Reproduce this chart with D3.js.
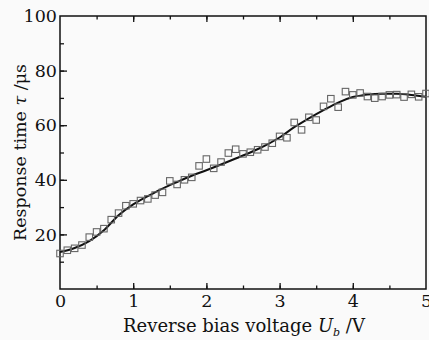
<!DOCTYPE html>
<html>
<head>
<meta charset="utf-8">
<script src="https://cdn.jsdelivr.net/npm/d3@7"></script>
<style>
  body { margin: 0; background: #fafafa; }
  svg { display: block; }
</style>
</head>
<body>
<div class="chart"></div>
<script>
// measured points
const voltage = [0, 0.1, 0.2, 0.3, 0.4, 0.5, 0.6, 0.7, 0.8, 0.9, 1.0, 1.1, 1.2, 1.3, 1.4, 1.5, 1.6, 1.7, 1.8, 1.9,
  2.0, 2.1, 2.2, 2.3, 2.4, 2.5, 2.6, 2.7, 2.8, 2.9, 3.0, 3.1, 3.2, 3.3, 3.4, 3.5, 3.6, 3.7, 3.8, 3.9,
  4.0, 4.1, 4.2, 4.3, 4.4, 4.5, 4.6, 4.7, 4.8, 4.9, 5.0];
const response = [13.0, 14.2, 14.9, 16.1, 19.0, 20.9, 22.1, 25.4, 27.8, 30.5, 31.2, 32.4, 33.0, 34.4, 35.4, 39.6, 38.3, 40.0, 40.9, 45.1,
  47.6, 44.2, 46.5, 49.8, 51.2, 49.5, 50.1, 51.0, 52.0, 53.4, 55.9, 55.4, 61.0, 58.3, 62.9, 61.9, 66.9, 69.7, 66.6, 72.3,
  71.1, 71.8, 70.5, 69.9, 70.5, 71.1, 71.2, 70.3, 71.3, 70.4, 71.6];

// fitted curve
const fitV = [0, 0.2, 0.4, 0.6, 0.8, 1.0, 1.2, 1.4, 1.6, 1.8, 2.0, 2.2, 2.4, 2.6, 2.8, 3.0, 3.2, 3.4, 3.6, 3.8, 4.0, 4.2, 4.4, 4.6, 4.8, 5.0];
const fitTau = [13.5, 15.0, 17.5, 21.5, 27.0, 31.0, 34.0, 36.8, 39.2, 41.5, 43.5, 45.6, 47.8, 50.0, 52.5, 55.5, 59.3, 62.5, 65.5, 68.3, 70.3, 71.2, 71.5, 71.5, 71.1, 70.4];

const xTicks = [0, 1, 2, 3, 4, 5];
const yTicks = [20, 40, 60, 80, 100];

const W = 429, H = 340;
const margin = { left: 60, right: 3, top: 16, bottom: 51 };

const svg = d3.select(".chart").append("svg")
  .attr("width", W).attr("height", H);

const x = d3.scaleLinear().domain([0, 5]).range([margin.left, W - margin.right]);
const y = d3.scaleLinear().domain([0, 100]).range([H - margin.bottom, margin.top]);

const font = "DejaVu Serif";

// inward ticks on bottom, top and left
const minorX = d3.range(0.5, 5, 0.5);
const minorY = d3.range(10, 100, 10);
const innerX = [1, 2, 3, 4];
const innerY = [20, 40, 60, 80];

function tickGroup(axis, tr) {
  svg.append("g")
    .attr("transform", tr)
    .call(axis)
    .call(g => g.select(".domain").remove());
}
tickGroup(d3.axisBottom(x).tickValues(minorX).tickSize(-3.5).tickFormat(""), `translate(0,${y(0)})`);
tickGroup(d3.axisBottom(x).tickValues(innerX).tickSize(-6).tickFormat(""), `translate(0,${y(0)})`);
tickGroup(d3.axisTop(x).tickValues(minorX).tickSize(-3.5).tickFormat(""), `translate(0,${y(100)})`);
tickGroup(d3.axisTop(x).tickValues(innerX).tickSize(-6).tickFormat(""), `translate(0,${y(100)})`);
tickGroup(d3.axisLeft(y).tickValues(minorY).tickSize(-4).tickFormat(""), `translate(${x(0)},0)`);
tickGroup(d3.axisLeft(y).tickValues(innerY).tickSize(-7).tickFormat(""), `translate(${x(0)},0)`);

const xAxis = svg.append("g")
  .attr("transform", `translate(0,${y(0)})`)
  .call(d3.axisBottom(x).tickValues(xTicks).tickSize(0).tickPadding(6).tickFormat(d3.format("d")));
xAxis.select(".domain").remove();
xAxis.selectAll("text").attr("font-family", font).attr("font-size", 17.5).attr("fill", "#111");

const yAxis = svg.append("g")
  .attr("transform", `translate(${x(0)},0)`)
  .call(d3.axisLeft(y).tickValues(yTicks).tickSize(0).tickPadding(3));
yAxis.select(".domain").remove();
yAxis.selectAll("text").attr("font-family", font).attr("font-size", 17.5).attr("fill", "#111");

svg.selectAll("g.tick line").attr("stroke", "#111").attr("stroke-width", 1.3);

// frame
svg.append("rect")
  .attr("x", x(0)).attr("y", y(100))
  .attr("width", x(5) - x(0)).attr("height", y(0) - y(100))
  .attr("fill", "none").attr("stroke", "#111").attr("stroke-width", 1.5);

// fit line
const line = d3.line()
  .x((d, i) => x(fitV[i]))
  .y(d => y(d))
  .curve(d3.curveMonotoneX);

svg.append("path")
  .datum(fitTau)
  .attr("d", line)
  .attr("fill", "none")
  .attr("stroke", "#111")
  .attr("stroke-width", 2);

// squares
const s = 6.5;
svg.append("g").selectAll("rect")
  .data(response)
  .join("rect")
  .attr("x", (d, i) => x(voltage[i]) - s / 2)
  .attr("y", d => y(d) - s / 2)
  .attr("width", s).attr("height", s)
  .attr("fill", "none")
  .attr("stroke", "#666")
  .attr("stroke-width", 1.1);

// axis titles
svg.append("text")
  .attr("x", 244).attr("y", 332)
  .attr("text-anchor", "middle")
  .attr("font-family", font).attr("font-size", 18).attr("fill", "#111")
  .call(t => {
    t.append("tspan").text("Reverse bias voltage ");
    t.append("tspan").attr("font-style", "italic").text("U");
    t.append("tspan").attr("font-style", "italic").attr("font-size", 11).attr("dy", 4).text("b");
    t.append("tspan").attr("dy", -4).text(" /V");
  });

svg.append("text")
  .attr("transform", `translate(26,${(y(0) + y(100)) / 2}) rotate(-90)`)
  .attr("text-anchor", "middle")
  .attr("font-family", font).attr("font-size", 17.5).attr("fill", "#111")
  .call(t => {
    t.append("tspan").text("Response time ");
    t.append("tspan").attr("font-style", "italic").text("τ");
    t.append("tspan").text(" /μs");
  });
</script>
</body>
</html>
